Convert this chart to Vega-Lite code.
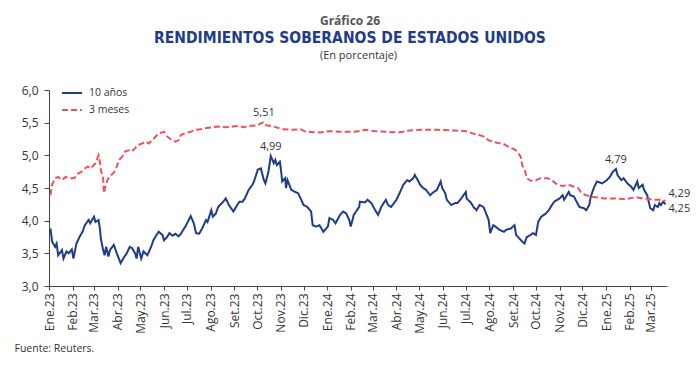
{
  "$schema": "https://vega.github.io/schema/vega-lite/v6.json",
  "width": 618,
  "height": 196,
  "autosize": {"type": "none"},
  "padding": {"left": 49, "top": 90, "right": 33, "bottom": 79},
  "config": {"view": {"stroke": null}, "font": "Open Sans"},
  "title": {
    "text": "Gráfico 26",
    "subtitle": "RENDIMIENTOS SOBERANOS DE ESTADOS UNIDOS",
    "fontSize": 12,
    "fontWeight": "bold",
    "color": "#555555",
    "font": "Open Sans",
    "subtitleFont": "DejaVu Sans Condensed",
    "subtitleFontSize": 15.5,
    "subtitleFontWeight": "bold",
    "subtitleColor": "#1f3c88",
    "subtitlePadding": 3,
    "anchor": "middle",
    "offset": 2,
    "dx": -8
  },
  "resolve": {"axis": {"x": "independent", "y": "independent"}},
  "layer": [
    {
      "data": {"values": [
        {"d":"2023-01-03","v":3.88,"s":"10 años"},{"d":"2023-01-05","v":3.68,"s":"10 años"},{"d":"2023-01-09","v":3.60,"s":"10 años"},{"d":"2023-01-11","v":3.65,"s":"10 años"},{"d":"2023-01-13","v":3.47,"s":"10 años"},{"d":"2023-01-18","v":3.55,"s":"10 años"},{"d":"2023-01-20","v":3.42,"s":"10 años"},{"d":"2023-01-24","v":3.53,"s":"10 años"},{"d":"2023-01-27","v":3.50,"s":"10 años"},{"d":"2023-01-31","v":3.56,"s":"10 años"},
        {"d":"2023-02-02","v":3.42,"s":"10 años"},{"d":"2023-02-06","v":3.65,"s":"10 años"},{"d":"2023-02-10","v":3.75,"s":"10 años"},{"d":"2023-02-14","v":3.83,"s":"10 años"},{"d":"2023-02-17","v":3.93,"s":"10 años"},{"d":"2023-02-22","v":4.01,"s":"10 años"},{"d":"2023-02-24","v":3.96,"s":"10 años"},
        {"d":"2023-03-01","v":4.06,"s":"10 años"},{"d":"2023-03-03","v":3.98,"s":"10 años"},{"d":"2023-03-07","v":4.01,"s":"10 años"},{"d":"2023-03-09","v":3.86,"s":"10 años"},{"d":"2023-03-10","v":3.73,"s":"10 años"},{"d":"2023-03-13","v":3.55,"s":"10 años"},{"d":"2023-03-15","v":3.47,"s":"10 años"},{"d":"2023-03-17","v":3.60,"s":"10 años"},{"d":"2023-03-20","v":3.45,"s":"10 años"},{"d":"2023-03-22","v":3.55,"s":"10 años"},{"d":"2023-03-27","v":3.63,"s":"10 años"},{"d":"2023-03-31","v":3.50,"s":"10 años"},
        {"d":"2023-04-05","v":3.35,"s":"10 años"},{"d":"2023-04-10","v":3.45,"s":"10 años"},{"d":"2023-04-13","v":3.50,"s":"10 años"},{"d":"2023-04-17","v":3.60,"s":"10 años"},{"d":"2023-04-20","v":3.58,"s":"10 años"},{"d":"2023-04-24","v":3.50,"s":"10 años"},{"d":"2023-04-26","v":3.42,"s":"10 años"},{"d":"2023-04-28","v":3.60,"s":"10 años"},
        {"d":"2023-05-02","v":3.42,"s":"10 años"},{"d":"2023-05-05","v":3.53,"s":"10 años"},{"d":"2023-05-10","v":3.47,"s":"10 años"},{"d":"2023-05-15","v":3.60,"s":"10 años"},{"d":"2023-05-18","v":3.70,"s":"10 años"},{"d":"2023-05-22","v":3.78,"s":"10 años"},{"d":"2023-05-25","v":3.83,"s":"10 años"},{"d":"2023-05-30","v":3.78,"s":"10 años"},
        {"d":"2023-06-01","v":3.70,"s":"10 años"},{"d":"2023-06-05","v":3.75,"s":"10 años"},{"d":"2023-06-08","v":3.81,"s":"10 años"},{"d":"2023-06-12","v":3.77,"s":"10 años"},{"d":"2023-06-16","v":3.80,"s":"10 años"},{"d":"2023-06-20","v":3.76,"s":"10 años"},{"d":"2023-06-23","v":3.80,"s":"10 años"},{"d":"2023-06-29","v":3.91,"s":"10 años"},
        {"d":"2023-07-06","v":4.07,"s":"10 años"},{"d":"2023-07-10","v":3.96,"s":"10 años"},{"d":"2023-07-13","v":3.81,"s":"10 años"},{"d":"2023-07-17","v":3.80,"s":"10 años"},{"d":"2023-07-21","v":3.88,"s":"10 años"},{"d":"2023-07-26","v":4.01,"s":"10 años"},{"d":"2023-07-28","v":3.98,"s":"10 años"},
        {"d":"2023-08-02","v":4.16,"s":"10 años"},{"d":"2023-08-04","v":4.06,"s":"10 años"},{"d":"2023-08-08","v":4.11,"s":"10 años"},{"d":"2023-08-11","v":4.21,"s":"10 años"},{"d":"2023-08-16","v":4.27,"s":"10 años"},{"d":"2023-08-21","v":4.34,"s":"10 años"},{"d":"2023-08-25","v":4.24,"s":"10 años"},{"d":"2023-08-31","v":4.14,"s":"10 años"},
        {"d":"2023-09-05","v":4.24,"s":"10 años"},{"d":"2023-09-08","v":4.29,"s":"10 años"},{"d":"2023-09-12","v":4.29,"s":"10 años"},{"d":"2023-09-15","v":4.34,"s":"10 años"},{"d":"2023-09-20","v":4.47,"s":"10 años"},{"d":"2023-09-25","v":4.55,"s":"10 años"},{"d":"2023-09-27","v":4.60,"s":"10 años"},
        {"d":"2023-10-02","v":4.78,"s":"10 años"},{"d":"2023-10-06","v":4.80,"s":"10 años"},{"d":"2023-10-10","v":4.62,"s":"10 años"},{"d":"2023-10-12","v":4.57,"s":"10 años"},{"d":"2023-10-16","v":4.75,"s":"10 años"},{"d":"2023-10-19","v":4.99,"s":"10 años"},{"d":"2023-10-23","v":4.88,"s":"10 años"},{"d":"2023-10-25","v":4.93,"s":"10 años"},{"d":"2023-10-27","v":4.85,"s":"10 años"},{"d":"2023-10-31","v":4.90,"s":"10 años"},
        {"d":"2023-11-02","v":4.72,"s":"10 años"},{"d":"2023-11-03","v":4.60,"s":"10 años"},{"d":"2023-11-07","v":4.65,"s":"10 años"},{"d":"2023-11-08","v":4.50,"s":"10 años"},{"d":"2023-11-10","v":4.62,"s":"10 años"},{"d":"2023-11-15","v":4.47,"s":"10 años"},{"d":"2023-11-20","v":4.44,"s":"10 años"},{"d":"2023-11-24","v":4.42,"s":"10 años"},{"d":"2023-11-28","v":4.32,"s":"10 años"},
        {"d":"2023-12-01","v":4.24,"s":"10 años"},{"d":"2023-12-06","v":4.21,"s":"10 años"},{"d":"2023-12-11","v":4.14,"s":"10 años"},{"d":"2023-12-13","v":3.93,"s":"10 años"},{"d":"2023-12-18","v":3.91,"s":"10 años"},{"d":"2023-12-22","v":3.93,"s":"10 años"},{"d":"2023-12-27","v":3.83,"s":"10 años"},
        {"d":"2024-01-02","v":3.91,"s":"10 años"},{"d":"2024-01-04","v":4.04,"s":"10 años"},{"d":"2024-01-09","v":4.01,"s":"10 años"},{"d":"2024-01-12","v":3.96,"s":"10 años"},{"d":"2024-01-18","v":4.09,"s":"10 años"},{"d":"2024-01-22","v":4.14,"s":"10 años"},{"d":"2024-01-26","v":4.11,"s":"10 años"},{"d":"2024-01-30","v":4.01,"s":"10 años"},
        {"d":"2024-02-01","v":3.91,"s":"10 años"},{"d":"2024-02-05","v":4.09,"s":"10 años"},{"d":"2024-02-08","v":4.14,"s":"10 años"},{"d":"2024-02-12","v":4.21,"s":"10 años"},{"d":"2024-02-13","v":4.29,"s":"10 años"},{"d":"2024-02-20","v":4.28,"s":"10 años"},{"d":"2024-02-23","v":4.32,"s":"10 años"},{"d":"2024-02-28","v":4.27,"s":"10 años"},
        {"d":"2024-03-04","v":4.16,"s":"10 años"},{"d":"2024-03-08","v":4.09,"s":"10 años"},{"d":"2024-03-12","v":4.21,"s":"10 años"},{"d":"2024-03-18","v":4.32,"s":"10 años"},{"d":"2024-03-21","v":4.24,"s":"10 años"},{"d":"2024-03-25","v":4.21,"s":"10 años"},
        {"d":"2024-04-01","v":4.32,"s":"10 años"},{"d":"2024-04-03","v":4.37,"s":"10 años"},{"d":"2024-04-05","v":4.42,"s":"10 años"},{"d":"2024-04-10","v":4.55,"s":"10 años"},{"d":"2024-04-15","v":4.62,"s":"10 años"},{"d":"2024-04-18","v":4.60,"s":"10 años"},{"d":"2024-04-23","v":4.65,"s":"10 años"},{"d":"2024-04-25","v":4.70,"s":"10 años"},{"d":"2024-04-29","v":4.62,"s":"10 años"},
        {"d":"2024-05-02","v":4.55,"s":"10 años"},{"d":"2024-05-06","v":4.50,"s":"10 años"},{"d":"2024-05-10","v":4.47,"s":"10 años"},{"d":"2024-05-15","v":4.39,"s":"10 años"},{"d":"2024-05-20","v":4.44,"s":"10 años"},{"d":"2024-05-24","v":4.47,"s":"10 años"},{"d":"2024-05-29","v":4.60,"s":"10 años"},{"d":"2024-05-31","v":4.50,"s":"10 años"},
        {"d":"2024-06-04","v":4.42,"s":"10 años"},{"d":"2024-06-06","v":4.32,"s":"10 años"},{"d":"2024-06-12","v":4.24,"s":"10 años"},{"d":"2024-06-17","v":4.27,"s":"10 años"},{"d":"2024-06-20","v":4.27,"s":"10 años"},{"d":"2024-06-25","v":4.34,"s":"10 años"},
        {"d":"2024-07-01","v":4.44,"s":"10 años"},{"d":"2024-07-02","v":4.34,"s":"10 años"},{"d":"2024-07-08","v":4.27,"s":"10 años"},{"d":"2024-07-11","v":4.21,"s":"10 años"},{"d":"2024-07-15","v":4.16,"s":"10 años"},{"d":"2024-07-19","v":4.24,"s":"10 años"},{"d":"2024-07-24","v":4.21,"s":"10 años"},{"d":"2024-07-26","v":4.16,"s":"10 años"},{"d":"2024-07-31","v":4.01,"s":"10 años"},
        {"d":"2024-08-02","v":3.81,"s":"10 años"},{"d":"2024-08-06","v":3.93,"s":"10 años"},{"d":"2024-08-09","v":3.91,"s":"10 años"},{"d":"2024-08-14","v":3.86,"s":"10 años"},{"d":"2024-08-20","v":3.83,"s":"10 años"},{"d":"2024-08-23","v":3.86,"s":"10 años"},{"d":"2024-08-29","v":3.88,"s":"10 años"},
        {"d":"2024-09-03","v":3.93,"s":"10 años"},{"d":"2024-09-05","v":3.78,"s":"10 años"},{"d":"2024-09-09","v":3.73,"s":"10 años"},{"d":"2024-09-13","v":3.68,"s":"10 años"},{"d":"2024-09-16","v":3.65,"s":"10 años"},{"d":"2024-09-19","v":3.75,"s":"10 años"},{"d":"2024-09-24","v":3.78,"s":"10 años"},{"d":"2024-09-27","v":3.81,"s":"10 años"},
        {"d":"2024-10-01","v":3.78,"s":"10 años"},{"d":"2024-10-04","v":3.98,"s":"10 años"},{"d":"2024-10-08","v":4.06,"s":"10 años"},{"d":"2024-10-14","v":4.11,"s":"10 años"},{"d":"2024-10-18","v":4.16,"s":"10 años"},{"d":"2024-10-22","v":4.24,"s":"10 años"},{"d":"2024-10-25","v":4.29,"s":"10 años"},
        {"d":"2024-11-01","v":4.34,"s":"10 años"},{"d":"2024-11-05","v":4.39,"s":"10 años"},{"d":"2024-11-07","v":4.32,"s":"10 años"},{"d":"2024-11-13","v":4.44,"s":"10 años"},{"d":"2024-11-15","v":4.39,"s":"10 años"},{"d":"2024-11-20","v":4.37,"s":"10 años"},{"d":"2024-11-22","v":4.32,"s":"10 años"},{"d":"2024-11-27","v":4.21,"s":"10 años"},
        {"d":"2024-12-03","v":4.19,"s":"10 años"},{"d":"2024-12-06","v":4.16,"s":"10 años"},{"d":"2024-12-10","v":4.24,"s":"10 años"},{"d":"2024-12-12","v":4.37,"s":"10 años"},{"d":"2024-12-16","v":4.50,"s":"10 años"},{"d":"2024-12-18","v":4.55,"s":"10 años"},{"d":"2024-12-20","v":4.60,"s":"10 años"},{"d":"2024-12-27","v":4.57,"s":"10 años"},
        {"d":"2025-01-02","v":4.62,"s":"10 años"},{"d":"2025-01-06","v":4.67,"s":"10 años"},{"d":"2025-01-10","v":4.75,"s":"10 años"},{"d":"2025-01-14","v":4.79,"s":"10 años"},{"d":"2025-01-16","v":4.70,"s":"10 años"},{"d":"2025-01-21","v":4.62,"s":"10 años"},{"d":"2025-01-24","v":4.65,"s":"10 años"},{"d":"2025-01-29","v":4.57,"s":"10 años"},
        {"d":"2025-02-03","v":4.52,"s":"10 años"},{"d":"2025-02-06","v":4.47,"s":"10 años"},{"d":"2025-02-11","v":4.60,"s":"10 años"},{"d":"2025-02-13","v":4.50,"s":"10 años"},{"d":"2025-02-18","v":4.55,"s":"10 años"},{"d":"2025-02-20","v":4.47,"s":"10 años"},{"d":"2025-02-24","v":4.39,"s":"10 años"},{"d":"2025-02-26","v":4.29,"s":"10 años"},{"d":"2025-02-28","v":4.19,"s":"10 años"},
        {"d":"2025-03-04","v":4.16,"s":"10 años"},{"d":"2025-03-06","v":4.24,"s":"10 años"},{"d":"2025-03-10","v":4.21,"s":"10 años"},{"d":"2025-03-12","v":4.27,"s":"10 años"},{"d":"2025-03-14","v":4.24,"s":"10 años"},{"d":"2025-03-17","v":4.29,"s":"10 años"},{"d":"2025-03-20","v":4.25,"s":"10 años"},
        {"d":"2023-01-03","v":4.39,"s":"3 meses"},{"d":"2023-01-05","v":4.55,"s":"3 meses"},{"d":"2023-01-09","v":4.65,"s":"3 meses"},{"d":"2023-01-13","v":4.67,"s":"3 meses"},{"d":"2023-01-18","v":4.62,"s":"3 meses"},{"d":"2023-01-23","v":4.67,"s":"3 meses"},{"d":"2023-01-27","v":4.65,"s":"3 meses"},
        {"d":"2023-02-03","v":4.65,"s":"3 meses"},{"d":"2023-02-08","v":4.72,"s":"3 meses"},{"d":"2023-02-13","v":4.75,"s":"3 meses"},{"d":"2023-02-17","v":4.80,"s":"3 meses"},{"d":"2023-02-21","v":4.83,"s":"3 meses"},{"d":"2023-02-24","v":4.80,"s":"3 meses"},
        {"d":"2023-03-01","v":4.85,"s":"3 meses"},{"d":"2023-03-03","v":4.88,"s":"3 meses"},{"d":"2023-03-07","v":5.00,"s":"3 meses"},{"d":"2023-03-09","v":4.88,"s":"3 meses"},{"d":"2023-03-10","v":4.78,"s":"3 meses"},{"d":"2023-03-13","v":4.65,"s":"3 meses"},{"d":"2023-03-14","v":4.42,"s":"3 meses"},{"d":"2023-03-17","v":4.57,"s":"3 meses"},{"d":"2023-03-20","v":4.65,"s":"3 meses"},{"d":"2023-03-24","v":4.70,"s":"3 meses"},{"d":"2023-03-28","v":4.75,"s":"3 meses"},{"d":"2023-03-31","v":4.83,"s":"3 meses"},
        {"d":"2023-04-03","v":4.93,"s":"3 meses"},{"d":"2023-04-07","v":4.98,"s":"3 meses"},{"d":"2023-04-11","v":5.06,"s":"3 meses"},{"d":"2023-04-17","v":5.08,"s":"3 meses"},{"d":"2023-04-20","v":5.06,"s":"3 meses"},{"d":"2023-04-24","v":5.11,"s":"3 meses"},{"d":"2023-04-28","v":5.16,"s":"3 meses"},
        {"d":"2023-05-03","v":5.18,"s":"3 meses"},{"d":"2023-05-08","v":5.21,"s":"3 meses"},{"d":"2023-05-12","v":5.18,"s":"3 meses"},{"d":"2023-05-16","v":5.23,"s":"3 meses"},{"d":"2023-05-23","v":5.31,"s":"3 meses"},{"d":"2023-05-26","v":5.34,"s":"3 meses"},
        {"d":"2023-06-01","v":5.36,"s":"3 meses"},{"d":"2023-06-05","v":5.29,"s":"3 meses"},{"d":"2023-06-09","v":5.25,"s":"3 meses"},{"d":"2023-06-16","v":5.21,"s":"3 meses"},{"d":"2023-06-20","v":5.23,"s":"3 meses"},{"d":"2023-06-23","v":5.31,"s":"3 meses"},{"d":"2023-06-29","v":5.34,"s":"3 meses"},
        {"d":"2023-07-06","v":5.36,"s":"3 meses"},{"d":"2023-07-12","v":5.39,"s":"3 meses"},{"d":"2023-07-19","v":5.40,"s":"3 meses"},{"d":"2023-07-27","v":5.42,"s":"3 meses"},{"d":"2023-08-11","v":5.44,"s":"3 meses"},{"d":"2023-08-21","v":5.43,"s":"3 meses"},{"d":"2023-08-30","v":5.44,"s":"3 meses"},
        {"d":"2023-09-07","v":5.45,"s":"3 meses"},{"d":"2023-09-14","v":5.43,"s":"3 meses"},{"d":"2023-09-21","v":5.45,"s":"3 meses"},{"d":"2023-10-02","v":5.46,"s":"3 meses"},{"d":"2023-10-06","v":5.49,"s":"3 meses"},{"d":"2023-10-10","v":5.51,"s":"3 meses"},{"d":"2023-10-13","v":5.46,"s":"3 meses"},{"d":"2023-10-23","v":5.44,"s":"3 meses"},
        {"d":"2023-11-03","v":5.40,"s":"3 meses"},{"d":"2023-11-17","v":5.39,"s":"3 meses"},{"d":"2023-11-27","v":5.40,"s":"3 meses"},{"d":"2023-12-04","v":5.36,"s":"3 meses"},{"d":"2023-12-22","v":5.35,"s":"3 meses"},
        {"d":"2024-01-05","v":5.37,"s":"3 meses"},{"d":"2024-01-18","v":5.36,"s":"3 meses"},{"d":"2024-02-07","v":5.36,"s":"3 meses"},{"d":"2024-02-20","v":5.39,"s":"3 meses"},{"d":"2024-03-04","v":5.37,"s":"3 meses"},{"d":"2024-03-20","v":5.36,"s":"3 meses"},
        {"d":"2024-04-03","v":5.35,"s":"3 meses"},{"d":"2024-04-18","v":5.38,"s":"3 meses"},{"d":"2024-05-03","v":5.39,"s":"3 meses"},{"d":"2024-05-24","v":5.39,"s":"3 meses"},{"d":"2024-06-17","v":5.38,"s":"3 meses"},
        {"d":"2024-07-01","v":5.37,"s":"3 meses"},{"d":"2024-07-09","v":5.34,"s":"3 meses"},{"d":"2024-07-18","v":5.31,"s":"3 meses"},{"d":"2024-07-24","v":5.29,"s":"3 meses"},{"d":"2024-07-31","v":5.23,"s":"3 meses"},
        {"d":"2024-08-05","v":5.21,"s":"3 meses"},{"d":"2024-08-12","v":5.19,"s":"3 meses"},{"d":"2024-08-19","v":5.18,"s":"3 meses"},{"d":"2024-08-26","v":5.13,"s":"3 meses"},
        {"d":"2024-09-03","v":5.09,"s":"3 meses"},{"d":"2024-09-06","v":5.06,"s":"3 meses"},{"d":"2024-09-11","v":4.98,"s":"3 meses"},{"d":"2024-09-13","v":4.85,"s":"3 meses"},{"d":"2024-09-17","v":4.75,"s":"3 meses"},{"d":"2024-09-19","v":4.65,"s":"3 meses"},{"d":"2024-09-24","v":4.61,"s":"3 meses"},
        {"d":"2024-10-01","v":4.62,"s":"3 meses"},{"d":"2024-10-07","v":4.65,"s":"3 meses"},{"d":"2024-10-16","v":4.65,"s":"3 meses"},{"d":"2024-10-22","v":4.62,"s":"3 meses"},{"d":"2024-10-29","v":4.55,"s":"3 meses"},
        {"d":"2024-11-05","v":4.53,"s":"3 meses"},{"d":"2024-11-13","v":4.55,"s":"3 meses"},{"d":"2024-11-20","v":4.52,"s":"3 meses"},{"d":"2024-11-25","v":4.50,"s":"3 meses"},{"d":"2024-11-29","v":4.44,"s":"3 meses"},
        {"d":"2024-12-05","v":4.39,"s":"3 meses"},{"d":"2024-12-12","v":4.37,"s":"3 meses"},{"d":"2024-12-18","v":4.36,"s":"3 meses"},{"d":"2024-12-30","v":4.34,"s":"3 meses"},
        {"d":"2025-01-13","v":4.34,"s":"3 meses"},{"d":"2025-01-24","v":4.33,"s":"3 meses"},{"d":"2025-01-31","v":4.34,"s":"3 meses"},{"d":"2025-02-10","v":4.36,"s":"3 meses"},{"d":"2025-02-18","v":4.34,"s":"3 meses"},{"d":"2025-02-27","v":4.33,"s":"3 meses"},
        {"d":"2025-03-06","v":4.32,"s":"3 meses"},{"d":"2025-03-14","v":4.32,"s":"3 meses"},{"d":"2025-03-20","v":4.30,"s":"3 meses"}
      ]},
      "mark": {"type": "line", "strokeWidth": 2},
      "encoding": {
        "x": {
          "field": "d", "type": "temporal",
          "scale": {"type": "utc", "domain": [{"year": 2023, "month": 1, "date": 1, "utc": true}, {"year": 2025, "month": 3, "date": 22, "utc": true}]},
          "axis": {
            "orient": "bottom",
            "tickCount": {"interval": "month", "step": 1},
            "labelExpr": "['Ene','Feb','Mar','Abr','May','Jun','Jul','Ago','Set','Oct','Nov','Dic'][utcmonth(datum.value)] + '.' + utcFormat(datum.value, '%y')",
            "labelAngle": 270,
            "labelFontSize": 12,
            "labelColor": "#333333",
            "labelPadding": 3,
            "labelOverlap": false,
            "labelFlush": false,
            "tickSize": 4,
            "tickColor": "#444444",
            "domainColor": "#444444",
            "grid": false,
            "title": "Fuente: Reuters.",
            "titleFontSize": 10.5,
            "titleFontWeight": "normal",
            "titleColor": "#333333",
            "titleAlign": "left",
            "titleAnchor": "start",
            "titleX": -35,
            "titlePadding": 10
          }
        },
        "y": {
          "field": "v", "type": "quantitative",
          "scale": {"domain": [3, 6], "nice": false, "zero": false},
          "axis": {
            "values": [3, 3.5, 4, 4.5, 5, 5.5, 6],
            "labelExpr": "replace(format(datum.value, '.1f'), '.', ',')",
            "labelOverlap": false,
            "labelFlush": false,
            "labelFontSize": 12,
            "labelColor": "#333333",
            "labelPadding": 6,
            "tickSize": 5,
            "tickColor": "#444444",
            "domainColor": "#444444",
            "grid": false,
            "title": null
          }
        },
        "color": {
          "field": "s", "type": "nominal",
          "scale": {"domain": ["10 años", "3 meses"], "range": ["#1f3c88", "#f0505a"]},
          "legend": {
            "title": null,
            "orient": "none",
            "legendX": 12,
            "legendY": -8,
            "symbolType": "stroke",
            "symbolSize": 400,
            "symbolStrokeWidth": 2,
            "labelFontSize": 10.5,
            "labelColor": "#333333",
            "labelOffset": 6,
            "rowPadding": -5
          }
        },
        "strokeDash": {
          "field": "s", "type": "nominal",
          "scale": {"domain": ["10 años", "3 meses"], "range": [[1, 0], [6, 3]]},
          "legend": {
            "title": null,
            "orient": "none",
            "legendX": 12,
            "legendY": -8,
            "symbolType": "stroke",
            "symbolSize": 400,
            "symbolStrokeWidth": 2,
            "labelFontSize": 10.5,
            "labelColor": "#333333",
            "labelOffset": 6,
            "rowPadding": -5
          }
        }
      }
    },
    {
      "data": {"values": [
        {"d": "2023-10-10", "v": 5.51, "t": "5,51"},
        {"d": "2023-10-19", "v": 4.99, "t": "4,99"},
        {"d": "2025-01-14", "v": 4.79, "t": "4,79"}
      ]},
      "mark": {"type": "text", "fontSize": 11, "color": "#333333", "dy": -9, "baseline": "middle", "align": "center"},
      "encoding": {
        "x": {
          "field": "d", "type": "temporal",
          "axis": {
            "orient": "top", "domain": false, "ticks": false, "labels": false, "grid": false,
            "title": "(En porcentaje)", "titleFontSize": 11, "titleFontWeight": "normal", "titleColor": "#333333", "titlePadding": 30
          }
        },
        "y": {"field": "v", "type": "quantitative", "axis": null},
        "text": {"field": "t"}
      }
    },
    {
      "data": {"values": [{"d": "2025-03-20", "v": 4.30, "t": "4,29"}]},
      "mark": {"type": "text", "fontSize": 11, "color": "#333333", "dx": 3, "dy": -7, "baseline": "middle", "align": "left"},
      "encoding": {
        "x": {"field": "d", "type": "temporal", "axis": null},
        "y": {"field": "v", "type": "quantitative", "axis": null},
        "text": {"field": "t"}
      }
    },
    {
      "data": {"values": [{"d": "2025-03-20", "v": 4.25, "t": "4,25"}]},
      "mark": {"type": "text", "fontSize": 11, "color": "#333333", "dx": 3, "dy": 5, "baseline": "middle", "align": "left"},
      "encoding": {
        "x": {"field": "d", "type": "temporal", "axis": null},
        "y": {"field": "v", "type": "quantitative", "axis": null},
        "text": {"field": "t"}
      }
    }
  ]
}
